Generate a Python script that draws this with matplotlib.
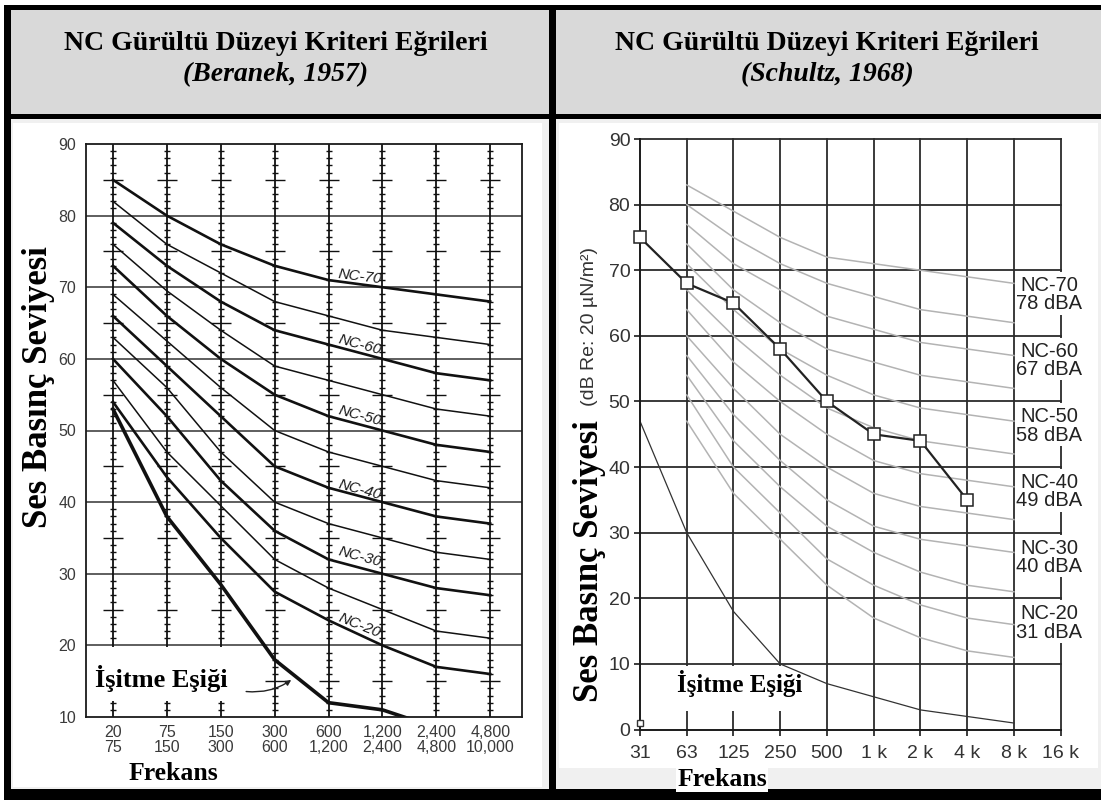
import matplotlib
matplotlib.use("Agg")
import matplotlib.pyplot as plt
from matplotlib.patches import Rectangle
import numpy as np

# ---------------------------------------------------------------- data
# Beranek (1957): octave bands (Hz) and NC curve levels (dB)
beranek_bands = ["20\n75", "75\n150", "150\n300", "300\n600",
                 "600\n1,200", "1,200\n2,400", "2,400\n4,800", "4,800\n10,000"]
b_nc70 = [85, 80, 76, 73, 71, 70, 69, 68]
b_nc65 = [82, 76, 72, 68, 66, 64, 63, 62]
b_nc60 = [79, 73, 68, 64, 62, 60, 58, 57]
b_nc55 = [76, 69.5, 64, 59, 57, 55, 53, 52]
b_nc50 = [73, 66, 60, 55, 52, 50, 48, 47]
b_nc45 = [69, 62.5, 56, 50, 47, 45, 43, 42]
b_nc40 = [66, 59, 52, 45, 42, 40, 38, 37]
b_nc35 = [63, 56, 47, 40, 37, 35, 33, 32]
b_nc30 = [60, 52, 43, 36, 32, 30, 28, 27]
b_nc25 = [57, 47, 39.5, 32, 28, 25, 22, 21]
b_nc20 = [54, 43.5, 35, 27.5, 23.5, 20, 17, 16]
b_threshold = [53, 38, 28.5, 18, 12, 11, 8.5]
b_labelled = ["NC-70", "NC-60", "NC-50", "NC-40", "NC-30", "NC-20"]

# Schultz (1968): octave band centre frequencies and NC curves (63 Hz .. 8 kHz)
octave_labels = ["31", "63", "125", "250", "500", "1 k", "2 k", "4 k", "8 k", "16 k"]
s_nc70 = [83, 79, 75, 72, 71, 70, 69, 68]
s_nc65 = [80, 75, 71, 68, 66, 64, 63, 62]
s_nc60 = [77, 71, 67, 63, 61, 59, 58, 57]
s_nc55 = [74, 67, 62, 58, 56, 54, 53, 52]
s_nc50 = [71, 64, 58, 54, 51, 49, 48, 47]
s_nc45 = [67, 60, 54, 49, 46, 44, 43, 42]
s_nc40 = [64, 56, 50, 45, 41, 39, 38, 37]
s_nc35 = [60, 52, 45, 40, 36, 34, 33, 32]
s_nc30 = [57, 48, 41, 35, 31, 29, 28, 27]
s_nc25 = [54, 44, 37, 31, 27, 24, 22, 21]
s_nc20 = [51, 40, 33, 26, 22, 19, 17, 16]
s_nc15 = [47, 36, 29, 22, 17, 14, 12, 11]
measured = [75, 68, 65, 58, 50, 45, 44, 35]          # 31 Hz .. 4 kHz
s_threshold = [47, 30, 18, 10, 7, 5, 3, 2, 1]        # 31 Hz .. 8 kHz
s_marker_31 = [1]
s_nc_names = ["NC-70", "NC-60", "NC-50", "NC-40", "NC-30", "NC-20"]
s_nc_dba = ["78 dBA", "67 dBA", "58 dBA", "49 dBA", "40 dBA", "31 dBA"]
s_nc_levels = [70, 60, 50, 40, 30, 20]

SERIF = "Liberation Serif"
SANS = "Liberation Sans"

# ---------------------------------------------------------------- figure
W, H = 1101, 800
fig = plt.figure(figsize=(W / 100, H / 100), dpi=100)
fig.patch.set_facecolor("white")


def fx(px):
    return px / W


def fy(py):
    return 1 - py / H


def frect(x0, y0, x1, y1, color, z=-10):
    fig.patches.append(Rectangle((fx(x0), fy(y1)), fx(x1) - fx(x0), fy(y0) - fy(y1),
                                 transform=fig.transFigure, facecolor=color,
                                 edgecolor="none", zorder=z))


# table frame, header cells, body cells and white panels
frect(4, 5, 1101, 800, "black", -12)
frect(11, 10, 549, 114, "#d9d9d9")
frect(556, 10, 1101, 114, "#d9d9d9")
frect(11, 119, 549, 789, "#f0f0f0")
frect(556, 119, 1101, 789, "#f0f0f0")
frect(13, 123, 542, 787, "white", -9)
frect(559, 123, 1098, 768, "white", -9)

title = "NC Gürültü Düzeyi Kriteri Eğrileri"
for cx, src in [(276, "(Beranek, 1957)"), (827, "(Schultz, 1968)")]:
    fig.text(fx(cx), fy(44), title, ha="center", va="center", family=SERIF,
             fontweight="bold", fontsize=20)
    fig.text(fx(cx), fy(75), src, ha="center", va="center", family=SERIF,
             fontweight="bold", fontstyle="italic", fontsize=20)

# ---------------------------------------------------------------- left chart
axL = fig.add_axes([fx(86), fy(717), fx(522) - fx(86), fy(144) - fy(717)])
axL.set_facecolor("none")
axL.set_xlim(-0.5, 7.59)
axL.set_ylim(10, 90)
for s in axL.spines.values():
    s.set_color("#1a1a1a")
    s.set_linewidth(1.3)
axL.set_yticks(range(10, 91, 10))
axL.set_xticks(range(len(beranek_bands)))
axL.set_xticklabels(beranek_bands, linespacing=0.95)
axL.tick_params(length=0, labelsize=11.5, labelcolor="#3a3a3a")
axL.tick_params(axis="x", pad=6)
axL.tick_params(axis="y", pad=7)
for lab in axL.get_xticklabels() + axL.get_yticklabels():
    lab.set_family(SANS)

for v in range(20, 90, 10):
    axL.axhline(v, color="#333333", lw=1.1, zorder=1)

levels = np.arange(10, 91)
small = levels[levels % 5 != 0]
big = levels[(levels % 5 == 0) & (levels % 10 != 0)]
for c in range(len(beranek_bands)):
    axL.axvline(c, color="#111111", lw=1.3, zorder=1.2)
    axL.plot(np.full(small.size, c), small, ls="none", marker="_", ms=5,
             mew=1.0, color="#111111", zorder=1.2)
    axL.plot(np.full(big.size, c), big, ls="none", marker="_", ms=14,
             mew=1.0, color="#111111", zorder=1.2)

# blank area behind the threshold label
axL.add_patch(Rectangle((-0.46, 12.2), 3.15, 7.6, facecolor="white",
                        edgecolor="none", zorder=1.5))

xb = np.arange(len(beranek_bands))
curves_1957 = [(b_nc70, 1.9), (b_nc65, 1.1), (b_nc60, 1.9), (b_nc55, 1.1),
               (b_nc50, 1.9), (b_nc45, 1.1), (b_nc40, 1.9), (b_nc35, 1.1),
               (b_nc30, 1.9), (b_nc25, 1.1), (b_nc20, 1.9)]
for vals, lw in curves_1957:
    axL.plot(xb, vals, color="#111111", lw=lw, zorder=2)
axL.plot(xb[:len(b_threshold)], b_threshold, color="#111111", lw=2.6, zorder=2)

label_pos = [(71.5, -7), (61.9, -15), (52.0, -15), (41.7, -15), (32.3, -15), (22.8, -22)]
for name, (yv, rot) in zip(b_labelled, label_pos):
    axL.text(4.58, yv, name, ha="center", va="center", rotation=rot,
             family=SANS, fontstyle="italic", fontsize=11, color="#1a1a1a", zorder=3)

axL.text(0.89, 15.4, "İşitme Eşiği", ha="center", va="center", family=SERIF,
         fontweight="bold", fontsize=19, zorder=3)
axL.annotate("", xy=(3.35, 15.4), xytext=(2.42, 13.6),
             arrowprops=dict(arrowstyle="-|>", color="#222222", lw=1.0,
                             mutation_scale=8, connectionstyle="arc3,rad=0.2"),
             zorder=3)

fig.text(fx(39), fy(387), "Ses Basınç Seviyesi", rotation=90, ha="center", va="center",
         family=SERIF, fontweight="bold", fontsize=25)
fig.text(fx(173), fy(774), "Frekans", ha="center", va="center",
         family=SERIF, fontweight="bold", fontsize=18.5)

# ---------------------------------------------------------------- right chart
axR = fig.add_axes([fx(640), fy(729.6), fx(1060.7) - fx(640), fy(139) - fy(729.6)])
axR.set_facecolor("none")
axR.set_xlim(0, 9)
axR.set_ylim(0, 90)
for side in ["top", "right"]:
    axR.spines[side].set_visible(False)
for side in ["left", "bottom"]:
    axR.spines[side].set_color("#1a1a1a")
    axR.spines[side].set_linewidth(1.4)
axR.set_xticks(range(len(octave_labels)))
axR.set_xticklabels(octave_labels)
axR.set_yticks(range(0, 91, 10))
axR.tick_params(direction="out", length=4, width=1.2, color="#1a1a1a",
                labelsize=14, labelcolor="#333333")
axR.tick_params(axis="x", pad=7)
axR.tick_params(axis="y", pad=3)
for lab in axR.get_xticklabels() + axR.get_yticklabels():
    lab.set_family(SANS)

for x in range(1, len(octave_labels)):
    axR.axvline(x, color="#2b2b2b", lw=1.3, zorder=1, clip_on=False)
for y in range(10, 91, 10):
    axR.axhline(y, color="#2b2b2b", lw=1.3, zorder=1, clip_on=False)

xs = np.arange(1, 9)
for vals in [s_nc70, s_nc65, s_nc60, s_nc55, s_nc50, s_nc45,
             s_nc40, s_nc35, s_nc30, s_nc25, s_nc20, s_nc15]:
    axR.plot(xs, vals, color="#b3b3b3", lw=1.1, zorder=2)

axR.plot(np.arange(len(s_threshold)), s_threshold, color="#333333", lw=0.9, zorder=2)
axR.add_patch(Rectangle((0.07, 2.8), 3.68, 6.9, facecolor="white",
                        edgecolor="none", zorder=1.5))
axR.text(2.14, 6.95, "İşitme Eşiği", ha="center", va="center", family=SERIF,
         fontweight="bold", fontsize=18, zorder=3)

axR.plot(np.arange(len(measured)), measured, color="#222222", lw=1.6, marker="s",
         ms=8, mfc="white", mec="#222222", mew=1.1, zorder=4, clip_on=False)
axR.plot([0], s_marker_31, ls="none", marker="s", ms=4.5, mfc="white",
         mec="#333333", mew=1.0, zorder=4, clip_on=False)

for name, dba, lvl in zip(s_nc_names, s_nc_dba, s_nc_levels):
    axR.add_patch(Rectangle((8.04, lvl - 6.8), 1.6, 6.5, facecolor="white",
                            edgecolor="none", zorder=1.5, clip_on=False))
    axR.text(8.75, lvl - 3.75, name + "\n" + dba, ha="center", va="center",
             family=SANS, fontsize=14.5, linespacing=0.95, color="#222222",
             zorder=3, clip_on=False)

fig.text(fx(589), fy(561), "Ses Basınç Seviyesi", rotation=90, ha="center", va="center",
         family=SERIF, fontweight="bold", fontsize=25)
fig.text(fx(589), fy(327), "(dB Re: 20 µN/m²)", rotation=90, ha="center", va="center",
         family=SANS, fontsize=14, color="#333333")
fig.text(fx(722), fy(779), "Frekans", ha="center", va="center",
         family=SERIF, fontweight="bold", fontsize=18.5,
         bbox=dict(facecolor="white", edgecolor="none", pad=1))

fig.savefig("out.png", dpi=100)
